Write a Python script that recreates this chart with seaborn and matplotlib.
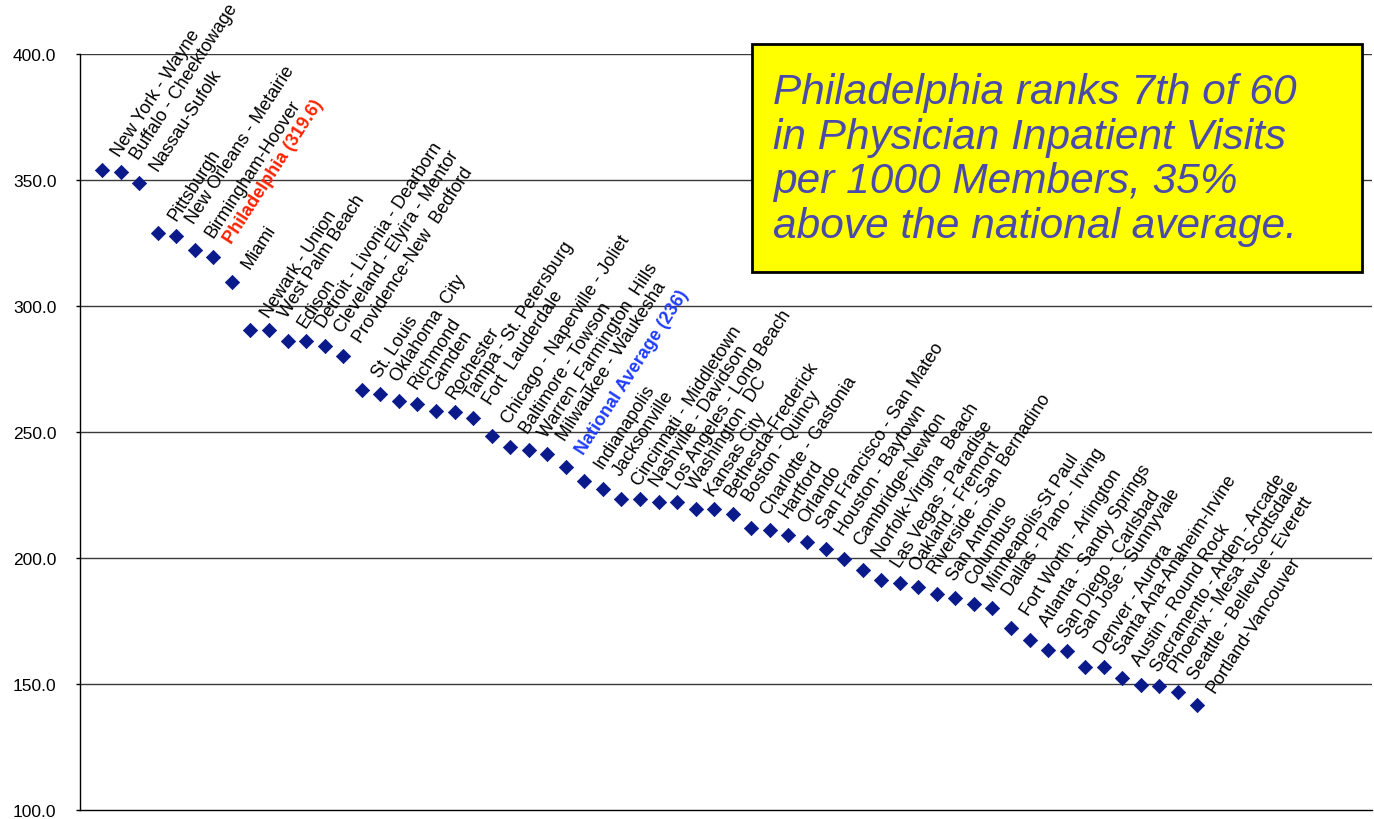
import numpy as np
import pandas as pd
import matplotlib
matplotlib.use("Agg")
import matplotlib.pyplot as plt
from matplotlib.patches import Rectangle
import seaborn as sns

# Physician inpatient visits per 1000 members, by metro area (ranked)
metros = [
    "New York - Wayne", "Buffalo - Cheektowage", "Nassau-Sufolk", "Pittsburgh",
    "New Orleans - Metairie", "Birmingham-Hoover", "Philadelphia (319.6)", "Miami",
    "Newark - Union", "West Palm Beach", "Edison", "Detroit - Livonia - Dearborn",
    "Cleveland - Elyira - Mentor", "Providence-New  Bedford", "St. Louis",
    "Oklahoma  City", "Richmond", "Camden", "Rochester", "Tampa - St. Petersburg",
    "Fort  Lauderdale", "Chicago - Naperville - Joliet", "Baltimore - Towson",
    "Warren_Farmington  Hills", "Milwaukee - Waukesha", "National Average (236)",
    "Indianapolis", "Jacksonville", "Cincinnati - Middletown", "Nashville - Davidson",
    "Los Angeles - Long Beach", "Washington  DC", "Kansas City", "Bethesda-Frederick",
    "Boston - Quincy", "Charlotte - Gastonia", "Hartford", "Orlando",
    "San Francisco - San Mateo", "Houston - Baytown", "Cambridge-Newton",
    "Norfolk-Virgina  Beach", "Las Vegas - Paradise", "Oakland - Fremont",
    "Riverside - San Bernadino", "San Antonio", "Columbus", "Minneapolis-St Paul",
    "Dallas - Plano - Irving", "Fort Worth - Arlington", "Atlanta - Sandy Springs",
    "San Diego - Carlsbad", "San Jose - Sunnyvale", "Denver - Aurora",
    "Santa Ana-Anaheim-Irvine", "Austin - Round Rock", "Sacramento - Arden - Arcade",
    "Phoenix - Mesa - Scottsdale", "Seattle - Bellevue - Everett", "Portland-Vancouver",
]
visits = [
    354.1, 353.2, 348.8, 329.0, 327.7, 322.2, 319.6, 309.7, 290.3, 290.3,
    286.2, 286.2, 284.3, 280.2, 266.5, 265.1, 262.2, 261.3, 258.2, 257.8,
    255.6, 248.3, 244.1, 242.7, 241.3, 236.0, 230.5, 227.5, 223.5, 223.3,
    222.2, 222.2, 219.3, 219.3, 217.3, 212.0, 211.1, 209.0, 206.4, 203.7,
    199.8, 195.2, 191.2, 189.9, 188.6, 185.9, 184.3, 181.7, 180.0, 172.1,
    167.6, 163.5, 163.0, 156.9, 156.6, 152.3, 149.7, 149.4, 146.7, 141.5,
]
highlight = {"Philadelphia (319.6)": "#ff2200", "National Average (236)": "#1f3cff"}
y_ticks = [100, 150, 200, 250, 300, 350, 400]

callout = ("Philadelphia ranks 7th of 60\n"
           "in Physician Inpatient Visits\n"
           "per 1000 Members, 35%\n"
           "above the national average.")

df = pd.DataFrame({"rank": np.arange(len(metros)), "metro": metros, "visits": visits})

sns.set_theme(style="white")
plt.rcParams["font.family"] = ["Liberation Sans", "DejaVu Sans"]

fig = plt.figure(figsize=(13.74, 8.2), dpi=100)
ax = fig.add_axes([80 / 1374, 1 - 811 / 820, (1372 - 80) / 1374, (811 - 55) / 820])

sns.scatterplot(data=df, x="rank", y="visits", marker="D", s=52,
                color="#0a1a8a", edgecolor="#0a1a8a", linewidth=0.6,
                ax=ax, zorder=3, legend=False)

for _, row in df.iterrows():
    col = highlight.get(row["metro"], "black")
    weight = "bold" if row["metro"] in highlight else "normal"
    ax.annotate(row["metro"], (row["rank"], row["visits"]),
                xytext=(13, 9), textcoords="offset points",
                rotation=57, rotation_mode="anchor", ha="left", va="baseline",
                fontsize=13, color=col, fontweight=weight,
                annotation_clip=False, zorder=4)

ax.set_xlim(-1.19, 68.46)
ax.set_ylim(100, 400)
ax.set_yticks(y_ticks)
ax.set_yticklabels([f"{v:.1f}" for v in y_ticks])
ax.set_xticks([])
ax.set_xlabel("")
ax.set_ylabel("")
ax.grid(False)
for v in y_ticks[1:]:
    ax.axhline(v, color="#3a3a3a", linewidth=1.0, zorder=1)

for side in ["top", "right"]:
    ax.spines[side].set_visible(False)
for side in ["left", "bottom"]:
    ax.spines[side].set_visible(True)
    ax.spines[side].set_color("black")
    ax.spines[side].set_linewidth(1.0)

ax.tick_params(axis="y", which="major", left=True, length=3, width=1,
               color="black", pad=14, labelsize=12.5, labelcolor="black")

# Yellow callout box
fig.patches.append(Rectangle((752 / 1374, 1 - 273 / 820), 610 / 1374, 228 / 820,
                             transform=fig.transFigure, facecolor="#ffff00",
                             edgecolor="black", linewidth=2, zorder=10))
fig.text(773 / 1374, 1 - 160 / 820, callout, ha="left", va="center",
         fontsize=30.5, fontstyle="italic", color="#4a4aaa",
         linespacing=1.15, zorder=11)

fig.savefig("out.png", dpi=100, facecolor="white")
